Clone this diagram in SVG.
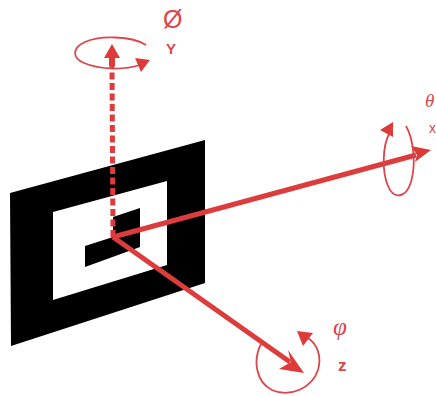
<svg xmlns="http://www.w3.org/2000/svg" width="436" height="396" viewBox="0 0 436 396">
<style>
.ax{fill:none;stroke:#dd3c3c;stroke-width:5}
.rot{fill:none;stroke:#d9474c;stroke-width:1.8}
.hd{fill:#dd3a3a;stroke:none}
.lb{fill:#d9474c;font-family:"Liberation Sans",Arial,sans-serif}
</style>
<rect width="436" height="396" fill="#ffffff"/>
<g id="marker">
<polygon points="10,193 205,140 205,283 11,346" fill="#000000"/>
<polygon points="53,212 167,181 167,265 53,300" fill="#ffffff"/>
<polygon points="85,246 113,237 113,217 140,208 140,247 85,267" fill="#000000"/>
</g>
<g id="connectors">
<path class="ax" d="M113 237L112 66" stroke-dasharray="7 3.5"/>
<polygon class="hd" points="112,44 104,58 109,58 109,66 115,66 115,58 120,58"/>
<path class="ax" d="M113 237L416 155"/>
<polygon class="hd" points="431,150 411,146 417,155 415,162"/>
<path class="ax" d="M113 237L290 362"/>
<polygon class="hd" points="304,373 288,350 291,362 279,369"/>
</g>
<g id="rotation-y">
<path class="rot" d="M146 45C132 36 100 35 85 42C72 48 72 58 84 63C100 70 125 70 140 65"/>
<polygon class="hd" points="135,58 150,60 141,72"/>
</g>
<g id="rotation-x">
<path class="rot" d="M406 126C414 140 416 165 411 182C406 198 394 200 388 186C382 172 382 146 390 132"/>
<polygon class="hd" points="380,130 393,122 393,137"/>
</g>
<g id="rotation-z">
<path class="rot" d="M262 342C252 360 256 382 272 390C290 398 312 388 318 370C322 356 317 344 308 338"/>
<polygon class="hd" points="297,331 313,333 303,346"/>
</g>
<g id="labels">
<text class="lb" x="163" y="28" font-size="25">Ø</text>
<text class="lb" x="166" y="54" font-size="15" font-weight="bold">Y</text>
<text class="lb" x="425" y="107" font-size="19" font-style="italic" style="font-family:'Liberation Serif',serif">θ</text>
<text class="lb" x="429" y="133" font-size="14">x</text>
<text class="lb" x="333" y="335" font-size="25" font-style="italic" style="font-family:'Liberation Serif',serif">φ</text>
<text class="lb" x="338" y="371" font-size="17" font-weight="bold">z</text>
</g>
</svg>
